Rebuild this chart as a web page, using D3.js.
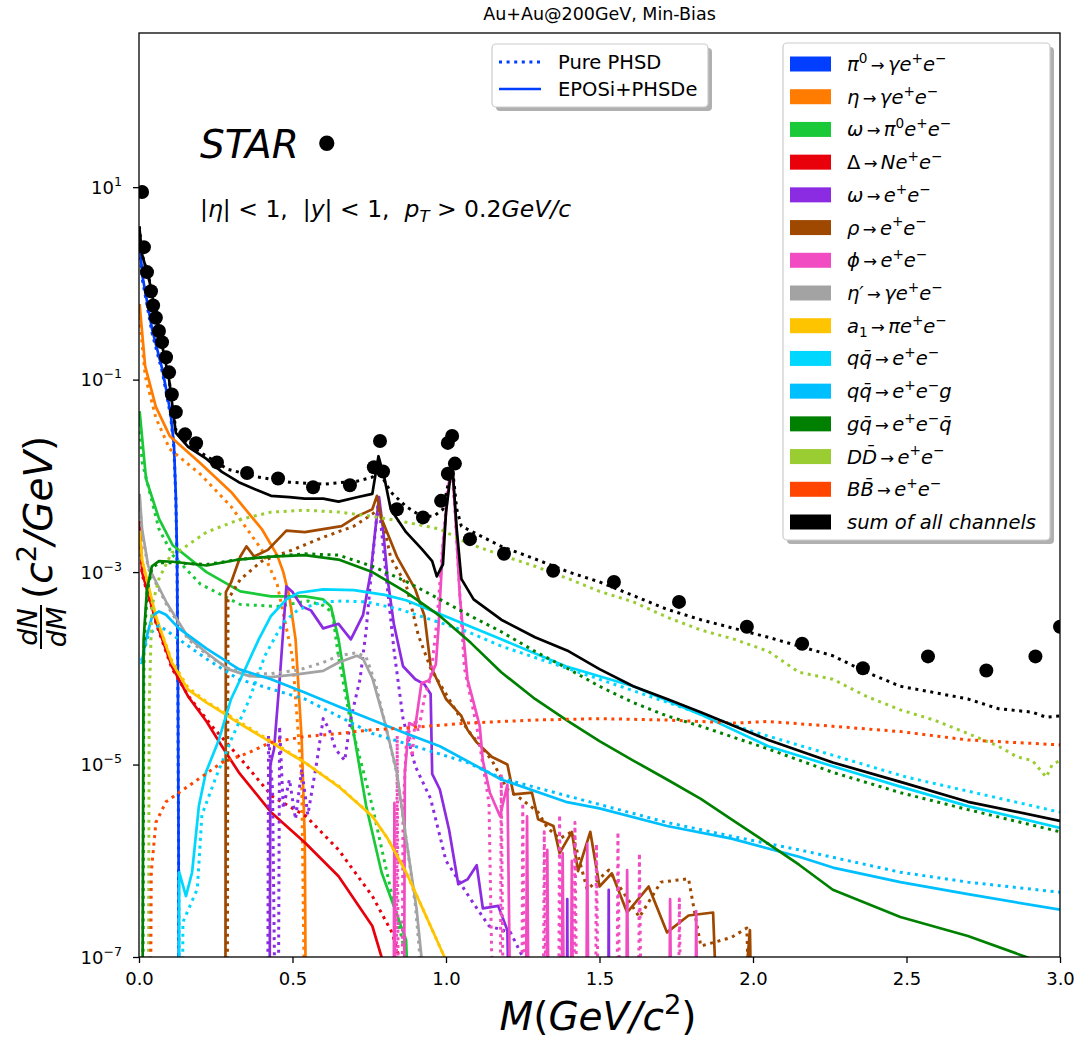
<!DOCTYPE html>
<html><head><meta charset="utf-8">
<script src="https://cdn.jsdelivr.net/npm/d3@7"></script>
<style>body{margin:0;background:#fff} svg{display:block} text{font-family:"DejaVu Sans",sans-serif;white-space:pre}</style>
</head><body><svg id="c" width="1091" height="1041"></svg>
<script>
// ---------------- DATA ----------------
const xTicks = [0, 0.5, 1.0, 1.5, 2.0, 2.5, 3.0];
const yTicks = [1e1, 1e-1, 1e-3, 1e-5, 1e-7];
const channelColors = ["#023eff","#ff7c00","#1ac938","#e8000b","#8b2be2","#9f4800","#f14cc1","#a3a3a3","#ffc400","#00d7ff","#00bfff","#008000","#9acd32","#ff4500","#000000"];

// STAR data points
const starM = [0.010,0.016,0.026,0.039,0.046,0.055,0.065,0.075,0.088,0.098,0.107,0.120,0.150,0.186,0.254,0.352,0.453,0.567,0.687,0.765,0.785,0.795,0.840,0.925,0.984,1.006,1.006,1.020,1.029,1.078,1.189,1.349,1.547,1.759,1.980,2.160,2.358,2.570,2.760,2.920,3.000];
const starY = [8.9,2.38,1.31,0.83,0.59,0.44,0.32,0.245,0.171,0.119,0.070,0.046,0.027,0.0218,0.0138,0.0107,9.4e-3,7.6e-3,8.0e-3,0.0123,0.023,0.0111,4.5e-3,3.7e-3,5.5e-3,0.0105,0.022,0.026,0.0134,2.2e-3,1.55e-3,1.03e-3,7.9e-4,4.9e-4,2.7e-4,1.8e-4,1.0e-4,1.33e-4,9.5e-5,1.33e-4,2.7e-4];

// EPOSi+PHSDe (solid) and Pure PHSD (dotted), [M, dN/dM]
const pi0Epos = [[0.001,3.0],[0.011,1.2],[0.043,0.33],[0.076,0.128],[0.103,0.045],[0.114,0.0205],[0.120,6.1e-3],[0.124,1.36e-3],[0.127,5e-5],[0.129,1e-6],[0.131,1e-9]];
const pi0Phsd = [[0.001,2.7],[0.011,1.1],[0.043,0.30],[0.076,0.12],[0.103,0.042],[0.114,0.019],[0.120,5.7e-3],[0.124,1.3e-3],[0.127,4.5e-5],[0.129,1e-6],[0.131,1e-9]];

const etaEpos = [[0.002,0.61],[0.02,0.138],[0.055,0.052],[0.10,0.026],[0.20,0.0135],[0.30,6.8e-3],[0.40,2.8e-3],[0.45,1.5e-3],[0.47,1.0e-3],[0.49,5.5e-4],[0.51,2.0e-4],[0.53,1.8e-5],[0.54,1.7e-6],[0.546,1e-9]];
const etaPhsd = [[0.002,0.45],[0.02,0.11],[0.055,0.040],[0.10,0.019],[0.20,0.0104],[0.30,4.8e-3],[0.40,1.7e-3],[0.45,7.5e-4],[0.50,1.3e-4],[0.53,7e-6],[0.545,1e-9]];

const omegaDalitzEpos = [[0.002,0.047],[0.023,9.3e-3],[0.065,3.6e-3],[0.11,1.9e-3],[0.22,1.0e-3],[0.33,6.3e-4],[0.43,5.6e-4],[0.54,5.6e-4],[0.60,5.2e-4],[0.625,4.4e-4],[0.65,2.0e-4],[0.684,4.1e-5],[0.74,3.7e-6],[0.79,7.6e-7],[0.87,1.5e-7],[0.895,1e-9]];
const omegaDalitzPhsd = [[0.002,0.035],[0.01,0.014],[0.065,2.8e-3],[0.11,1.5e-3],[0.20,7.5e-4],[0.33,4.6e-4],[0.45,4.4e-4],[0.55,5.0e-4],[0.60,4.5e-4],[0.63,3.8e-4],[0.65,1.3e-4],[0.69,2.7e-5],[0.76,3.7e-6],[0.82,5e-7],[0.87,1.0e-7],[0.875,1e-9]];

const deltaEpos = [[0.002,3.4e-3],[0.01,1.0e-3],[0.056,3.0e-4],[0.107,1.05e-4],[0.16,5.1e-5],[0.22,2.8e-5],[0.27,1.55e-5],[0.325,8.3e-6],[0.43,3.2e-6],[0.54,1.55e-6],[0.65,6.9e-7],[0.76,2.1e-7],[0.79,1e-7],[0.80,1e-9]];
const deltaPhsd = [[0.002,3.2e-3],[0.01,9.5e-4],[0.056,2.9e-4],[0.107,1.0e-4],[0.16,5.2e-5],[0.238,2.5e-5],[0.326,1.2e-5],[0.433,4.7e-6],[0.544,2.9e-6],[0.65,1.3e-6],[0.76,4.3e-7],[0.824,1.8e-7],[0.847,1e-7],[0.855,1e-9]];

const omegaEpos = [[0.424,1e-9],[0.428,1e-5],[0.44,1.45e-5],[0.46,9.1e-5],[0.48,7.1e-4],[0.50,6.2e-4],[0.53,4.4e-4],[0.56,4.0e-4],[0.60,2.6e-4],[0.65,2.9e-4],[0.69,2.0e-4],[0.73,3.6e-4],[0.755,1.0e-3],[0.77,2.8e-3],[0.782,6.0e-3],[0.795,2.8e-3],[0.81,8.4e-4],[0.83,2.9e-4],[0.86,1.05e-4],[0.90,7.7e-5],[0.93,6.8e-5],[0.95,5.4e-5],[0.955,8e-6],[0.98,5.5e-6],[1.01,2.1e-6],[1.04,5.7e-7],[1.07,6.4e-7],[1.10,9e-7],[1.12,3.2e-7],[1.17,3.4e-7],[1.20,1.9e-7],[1.212,1e-9],[1.393,1e-9],[1.395,4e-7],[1.398,1e-9],[1.528,1e-9],[1.53,5e-7],[1.533,1e-9]];
const omegaPhsd = [[0.418,1e-9],[0.422,2e-5],[0.435,5.5e-6],[0.448,1e-9],[0.452,1e-9],[0.458,2.5e-5],[0.47,3.5e-6],[0.49,7e-6],[0.51,2.7e-6],[0.53,8.9e-6],[0.55,3e-6],[0.58,1.1e-5],[0.60,3e-5],[0.62,2.3e-5],[0.64,1.45e-5],[0.67,1.1e-5],[0.69,3e-5],[0.72,7.7e-5],[0.74,2.5e-4],[0.76,1.3e-3],[0.78,5.7e-3],[0.80,1.3e-3],[0.83,1.6e-4],[0.86,3e-5],[0.90,9.6e-6],[0.95,4.4e-6],[1.00,1.0e-6],[1.08,4e-7],[1.14,2.1e-7],[1.21,1.8e-7],[1.25,1e-7],[1.255,1e-9]];

const rhoEpos = [[0.281,1e-9],[0.283,6.2e-4],[0.30,7.8e-4],[0.33,1.45e-3],[0.35,1.85e-3],[0.375,1.45e-3],[0.42,1.7e-3],[0.48,2.7e-3],[0.54,2.6e-3],[0.60,2.8e-3],[0.66,3.0e-3],[0.71,3.8e-3],[0.74,4.2e-3],[0.76,4.5e-3],[0.775,6.2e-3],[0.79,3.6e-3],[0.84,1.45e-3],[0.90,6.6e-4],[0.93,3.5e-4],[0.95,1.05e-4],[1.00,4.8e-5],[1.05,3.2e-5],[1.07,2.3e-5],[1.10,1.7e-5],[1.15,1.2e-5],[1.20,1.0e-5],[1.22,4.9e-6],[1.28,5.1e-6],[1.30,2.7e-6],[1.35,2.3e-6],[1.37,1.2e-6],[1.41,2.0e-6],[1.43,7.8e-7],[1.47,2.0e-6],[1.50,5.4e-7],[1.54,7.4e-7],[1.59,2.9e-7],[1.66,5.4e-7],[1.72,1.8e-7],[1.79,2.7e-7],[1.87,2.9e-7],[1.90,1e-9],[1.93,1e-9],[1.99,1.9e-7],[2.003,1e-9]];
const rhoPhsd = [[0.287,1e-9],[0.29,5.2e-4],[0.33,8.4e-4],[0.40,1.3e-3],[0.50,1.7e-3],[0.60,2.3e-3],[0.70,3.0e-3],[0.76,4.0e-3],[0.78,4.5e-3],[0.80,2.8e-3],[0.82,1.4e-3],[0.87,7.4e-4],[0.91,2.2e-4],[0.95,1.0e-4],[1.00,5.4e-5],[1.07,2.3e-5],[1.15,1.1e-5],[1.20,5.5e-6],[1.24,4.5e-6],[1.30,3.2e-6],[1.33,2.2e-6],[1.37,1.7e-6],[1.41,2.0e-6],[1.46,5e-7],[1.53,8e-7],[1.63,2.6e-7],[1.70,6e-7],[1.79,6.5e-7],[1.83,1.3e-7],[1.93,1.6e-7],[1.98,2.0e-7],[2.0,1e-9]];

const phiEpos = [[0.828,1e-9],[0.832,4e-6],[0.836,1e-9],[0.862,1e-9],[0.866,8.3e-6],[0.88,2.7e-5],[0.90,2.5e-5],[0.92,7e-5],[0.945,7.5e-5],[0.967,1.1e-4],[0.975,2.5e-4],[0.99,1.9e-3],[1.005,6e-3],[1.013,1.1e-2],[1.02,1.3e-2],[1.03,4.2e-3],[1.045,5.6e-4],[1.07,7.7e-5],[1.09,4.4e-5],[1.11,2.5e-5],[1.12,1.1e-5],[1.143,5.1e-6],[1.176,2.9e-6],[1.20,6.2e-6],[1.215,1e-9],[1.258,1e-9],[1.264,2.9e-6],[1.272,1e-9],[1.325,1e-9],[1.33,1.3e-6],[1.337,1e-9],[1.374,1e-9],[1.38,1.2e-6],[1.387,1e-9],[1.404,1e-9],[1.41,1e-6],[1.417,1e-9],[1.455,1e-9],[1.46,1.5e-6],[1.467,1e-9],[1.585,1e-9],[1.59,8e-7],[1.597,1e-9],[1.725,1e-9],[1.73,4e-7],[1.737,1e-9],[1.81,1e-9],[1.815,3e-7],[1.822,1e-9]];
const phiPhsd = [[0.837,1e-9],[0.841,2e-5],[0.846,1e-9],[0.855,1e-9],[0.86,3e-6],[0.87,1.5e-5],[0.88,2.2e-5],[0.89,1.2e-5],[0.90,3e-5],[0.91,2.2e-5],[0.93,5e-5],[0.95,8e-5],[0.97,3e-4],[0.99,2e-3],[1.005,7e-3],[1.019,1.2e-2],[1.03,4e-3],[1.045,6e-4],[1.06,1e-4],[1.08,5e-5],[1.10,2.5e-5],[1.12,1e-5],[1.14,4e-6],[1.16,1e-9],[1.175,1e-9],[1.18,8e-6],[1.19,1e-9],[1.245,1e-9],[1.25,4e-6],[1.26,1e-9],[1.315,1e-9],[1.32,2e-6],[1.33,1e-9],[1.365,1e-9],[1.37,3e-6],[1.38,1e-9],[1.415,1e-9],[1.42,2.5e-6],[1.43,1e-9],[1.485,1e-9],[1.49,1.5e-6],[1.50,1e-9],[1.555,1e-9],[1.56,2e-6],[1.57,1e-9],[1.625,1e-9],[1.63,1.2e-6],[1.64,1e-9],[1.755,1e-9],[1.76,4e-7],[1.77,1e-9]];

const etaPrimeEpos = [[0.002,6.5e-3],[0.01,2.8e-3],[0.03,1.15e-3],[0.09,4.8e-4],[0.16,2.1e-4],[0.22,1.45e-4],[0.29,9.8e-5],[0.36,8.3e-5],[0.43,8.1e-5],[0.52,8.7e-5],[0.60,9.4e-5],[0.65,1.15e-4],[0.71,1.35e-4],[0.73,1.25e-4],[0.76,7.9e-5],[0.80,2.8e-5],[0.84,8.3e-6],[0.87,1.7e-6],[0.904,3.2e-7],[0.92,1e-7],[0.925,1e-9]];
const etaPrimePhsd = [[0.002,5.5e-3],[0.01,2.6e-3],[0.03,1.1e-3],[0.09,4.6e-4],[0.16,2.0e-4],[0.22,1.4e-4],[0.29,1.0e-4],[0.36,8.8e-5],[0.43,8.8e-5],[0.52,9.6e-5],[0.60,1.15e-4],[0.65,1.35e-4],[0.71,1.45e-4],[0.74,1.3e-4],[0.77,7e-5],[0.80,2.8e-5],[0.84,8e-6],[0.87,1.7e-6],[0.90,3.5e-7],[0.915,1e-7],[0.92,1e-9]];

const a1Epos = [[0.002,2.7e-3],[0.01,1.35e-3],[0.056,3.4e-4],[0.107,1.15e-4],[0.16,6e-5],[0.22,4.4e-5],[0.27,3.5e-5],[0.325,2.7e-5],[0.43,1.7e-5],[0.54,1.05e-5],[0.65,5.9e-6],[0.76,2.9e-6],[0.81,1.7e-6],[0.87,7.6e-7],[0.92,3.4e-7],[0.97,1.5e-7],[0.995,1e-7],[1.0,1e-9]];
const a1Phsd = [[0.002,2.5e-3],[0.01,1.3e-3],[0.056,3.3e-4],[0.107,1.2e-4],[0.16,6.3e-5],[0.22,4.5e-5],[0.27,3.6e-5],[0.325,2.8e-5],[0.43,1.75e-5],[0.54,1.05e-5],[0.65,6e-6],[0.76,2.9e-6],[0.81,1.7e-6],[0.87,7.6e-7],[0.92,3.4e-7],[0.97,1.5e-7],[0.995,1e-7],[1.0,1e-9]];

const qqEpos = [[0.129,1e-9],[0.131,7.6e-7],[0.153,4.3e-7],[0.173,7.6e-7],[0.195,3.7e-6],[0.218,8.3e-6],[0.26,1.8e-5],[0.30,4.8e-5],[0.35,1.05e-4],[0.39,2.0e-4],[0.43,3.5e-4],[0.48,5.2e-4],[0.52,6.1e-4],[0.60,6.6e-4],[0.70,6.5e-4],[0.80,5.8e-4],[0.87,5.1e-4],[0.96,3.9e-4],[1.18,2.0e-4],[1.39,1.05e-4],[1.61,6.5e-5],[1.83,3.3e-5],[2.05,1.55e-5],[2.26,9.6e-6],[2.48,5.9e-6],[2.70,3.7e-6],[3.0,2.2e-6]];
const qqPhsd = [[0.14,1e-9],[0.143,2.3e-7],[0.19,5.1e-7],[0.205,3e-6],[0.25,7.3e-6],[0.30,1.8e-5],[0.36,4.8e-5],[0.41,1.35e-4],[0.47,3.0e-4],[0.52,4.1e-4],[0.60,4.9e-4],[0.66,5.0e-4],[0.74,4.9e-4],[0.85,4.1e-4],[1.07,2.4e-4],[1.18,1.7e-4],[1.50,7.7e-5],[2.0,2.2e-5],[2.5,7.4e-6],[3.0,3.2e-6]];

const qqgEpos = [[0.008,1.1e-4],[0.023,2.0e-4],[0.043,3.5e-4],[0.065,3.9e-4],[0.088,3.6e-4],[0.13,2.6e-4],[0.22,1.6e-4],[0.325,9.8e-5],[0.43,7.7e-5],[0.54,5.6e-5],[0.65,4.0e-5],[0.76,2.9e-5],[0.87,2.1e-5],[0.98,1.55e-5],[1.18,7.0e-6],[1.39,4.1e-6],[1.50,3.5e-6],[1.72,2.3e-6],[1.93,1.7e-6],[2.15,1.1e-6],[2.26,8.5e-7],[2.48,6.0e-7],[2.70,4.5e-7],[3.0,3.1e-7]];
const qqgPhsd = [[0.008,1.2e-4],[0.03,2.2e-4],[0.065,2.8e-4],[0.13,2.0e-4],[0.22,1.25e-4],[0.325,7.7e-5],[0.43,6.1e-5],[0.54,4.8e-5],[0.76,2.1e-5],[0.87,1.65e-5],[1.07,1.05e-5],[1.18,7.2e-6],[1.72,2.5e-6],[1.93,1.8e-6],[2.15,1.3e-6],[2.48,7.6e-7],[2.70,6.0e-7],[3.0,4.7e-7]];

const gqEpos = [[0.01,1e-9],[0.015,2.0e-4],[0.026,6.6e-4],[0.042,1.15e-3],[0.065,1.3e-3],[0.11,1.28e-3],[0.22,1.17e-3],[0.325,1.35e-3],[0.43,1.45e-3],[0.54,1.5e-3],[0.65,1.35e-3],[0.76,1.0e-3],[0.87,6.2e-4],[0.98,3.5e-4],[1.08,1.85e-4],[1.18,9.1e-5],[1.29,4.8e-5],[1.40,2.8e-5],[1.50,1.75e-5],[1.61,1.1e-5],[1.72,7.0e-6],[1.83,4.4e-6],[1.93,2.7e-6],[2.05,1.5e-6],[2.15,9.1e-7],[2.26,5.0e-7],[2.48,2.6e-7],[2.70,1.65e-7],[2.89,1.0e-7],[3.0,7e-8]];
const gqPhsd = [[0.011,1e-9],[0.016,1.6e-4],[0.026,6.0e-4],[0.042,1.1e-3],[0.065,1.25e-3],[0.11,1.25e-3],[0.22,1.2e-3],[0.325,1.35e-3],[0.43,1.45e-3],[0.54,1.55e-3],[0.65,1.5e-3],[0.76,1.15e-3],[0.87,8.0e-4],[0.98,5.2e-4],[1.08,3.5e-4],[1.18,2.4e-4],[1.29,1.5e-4],[1.40,9.8e-5],[1.50,6.5e-5],[1.61,4.4e-5],[1.72,3.2e-5],[1.83,2.5e-5],[2.05,1.45e-5],[2.26,8.3e-6],[2.48,5.1e-6],[2.70,3.4e-6],[3.0,2.0e-6]];

const ddPhsd = [[0.030,1e-9],[0.033,4e-5],[0.042,4.4e-4],[0.065,8.5e-4],[0.107,1.6e-3],[0.13,1.65e-3],[0.22,2.6e-3],[0.325,3.5e-3],[0.43,4.2e-3],[0.54,4.4e-3],[0.65,4.2e-3],[0.76,3.8e-3],[0.87,3.3e-3],[0.98,2.8e-3],[1.07,2.0e-3],[1.18,1.5e-3],[1.29,1.15e-3],[1.40,8.5e-4],[1.50,6.3e-4],[1.61,4.9e-4],[1.72,3.4e-4],[1.83,2.5e-4],[1.94,2.0e-4],[2.05,1.5e-4],[2.15,9.1e-5],[2.26,7.7e-5],[2.37,5.1e-5],[2.48,3.7e-5],[2.59,2.9e-5],[2.70,2.1e-5],[2.80,1.55e-5],[2.86,1.2e-5],[2.91,1.1e-5],[2.955,7.4e-6],[2.975,1.0e-5],[3.0,1.1e-5]];

const bbPhsd = [[0.035,1e-9],[0.04,7.6e-7],[0.055,2.5e-6],[0.088,4.1e-6],[0.13,5.1e-6],[0.195,7.1e-6],[0.27,1.05e-5],[0.35,1.3e-5],[0.43,1.7e-5],[0.54,1.95e-5],[0.65,2.1e-5],[0.76,2.3e-5],[0.87,2.4e-5],[1.07,2.7e-5],[1.29,2.9e-5],[1.50,3.0e-5],[1.72,2.9e-5],[1.94,2.7e-5],[2.05,2.8e-5],[2.26,2.5e-5],[2.48,2.2e-5],[2.70,1.8e-5],[3.0,1.6e-5]];

const sumEpos = [[0.001,3.9],[0.01,2.0],[0.033,1.1],[0.065,0.33],[0.098,0.10],[0.12,0.028],[0.16,0.020],[0.22,0.015],[0.27,0.011],[0.325,8.6e-3],[0.38,7.2e-3],[0.43,6.2e-3],[0.49,6.0e-3],[0.54,5.8e-3],[0.60,5.8e-3],[0.65,5.4e-3],[0.71,6.0e-3],[0.76,6.5e-3],[0.78,0.016],[0.80,9.3e-3],[0.82,4.5e-3],[0.87,2.6e-3],[0.92,1.75e-3],[0.955,1.3e-3],[0.97,9e-4],[0.99,1.2e-3],[1.0,4.2e-3],[1.02,0.0137],[1.035,2.8e-3],[1.05,8.5e-4],[1.09,5.2e-4],[1.18,3.2e-4],[1.29,2.1e-4],[1.40,1.5e-4],[1.50,9.8e-5],[1.61,6.5e-5],[1.72,4.8e-5],[1.83,3.5e-5],[2.05,1.8e-5],[2.26,1.05e-5],[2.48,6.6e-6],[2.70,4.1e-6],[3.0,2.6e-6]];
const sumPhsd = [[0.001,3.9],[0.01,2.0],[0.033,1.1],[0.065,0.33],[0.098,0.10],[0.12,0.03],[0.16,0.021],[0.22,0.016],[0.29,0.0117],[0.38,9.8e-3],[0.49,8.6e-3],[0.60,8.2e-3],[0.71,8.8e-3],[0.76,9.7e-3],[0.78,0.0117],[0.80,8.8e-3],[0.82,6.8e-3],[0.87,4.8e-3],[0.92,3.8e-3],[0.96,3.8e-3],[0.99,4.5e-3],[1.02,0.013],[1.035,4.5e-3],[1.05,3.0e-3],[1.18,1.85e-3],[1.29,1.37e-3],[1.40,1.0e-3],[1.50,7.9e-4],[1.61,5.7e-4],[1.72,4.1e-4],[1.83,3.2e-4],[2.05,2.1e-4],[2.26,1.35e-4],[2.37,9.1e-5],[2.48,6.5e-5],[2.59,5.6e-5],[2.70,4.8e-5],[2.80,3.8e-5],[2.91,3.5e-5],[2.955,3.1e-5],[3.0,3.2e-5]];

// ---------------- CHART ----------------
const svg = d3.select("#c");
const L = 139, R = 1060, T = 33, B = 957;
const x = d3.scaleLinear().domain([0, 3]).range([L, R]);
const y = d3.scaleLog().domain([1e-7, 400]).range([B, T]);

svg.append("defs").append("clipPath").attr("id","clip")
  .append("rect").attr("x",L).attr("y",T).attr("width",R-L).attr("height",B-T);

const plot = svg.append("g").attr("clip-path","url(#clip)");
const line = d3.line().x(d=>x(d[0])).y(d=>y(Math.max(d[1],1e-9)));

const DOT = "3,4.6";
const SW = 2.7, DW = 3;
const series = [
  [pi0Phsd,0,true],[pi0Epos,0,false],
  [etaPhsd,1,true],[etaEpos,1,false],
  [omegaDalitzPhsd,2,true],[omegaDalitzEpos,2,false],
  [deltaPhsd,3,true],[deltaEpos,3,false],
  [omegaPhsd,4,true],[omegaEpos,4,false],
  [rhoPhsd,5,true],[rhoEpos,5,false],
  [phiPhsd,6,true],[phiEpos,6,false],
  [etaPrimePhsd,7,true],[etaPrimeEpos,7,false],
  [a1Phsd,8,true],[a1Epos,8,false],
  [qqPhsd,9,true],[qqEpos,9,false],
  [qqgPhsd,10,true],[qqgEpos,10,false],
  [gqPhsd,11,true],[gqEpos,11,false],
  [ddPhsd,12,true],
  [bbPhsd,13,true],
  [sumPhsd,14,true],[sumEpos,14,false]
];
series.forEach(([data,ci,dotted])=>{
  plot.append("path").datum(data).attr("d",line)
    .attr("fill","none").attr("stroke",channelColors[ci])
    .attr("stroke-width", dotted?DW:SW)
    .attr("stroke-dasharray", dotted?DOT:null)
    .attr("stroke-linejoin","round");
});

plot.selectAll("circle.star").data(starM.map((m,i)=>[m,starY[i]])).join("circle")
  .attr("cx",d=>x(d[0])).attr("cy",d=>y(d[1])).attr("r",7).attr("fill","#000");

// frame
svg.append("rect").attr("x",L).attr("y",T).attr("width",R-L).attr("height",B-T)
  .attr("fill","none").attr("stroke","#000").attr("stroke-width",1.3);

// axes
const xAxis = svg.append("g").attr("transform",`translate(0,${B})`)
  .call(d3.axisBottom(x).tickValues(xTicks).tickFormat(d3.format(".1f")).tickSize(6).tickPadding(9));
xAxis.select(".domain").remove();
xAxis.selectAll("text").attr("font-size",18).attr("font-family","DejaVu Sans").attr("fill","#000");
xAxis.selectAll("line").attr("stroke","#000").attr("stroke-width",1.3);

const yAxis = svg.append("g").attr("transform",`translate(${L},0)`)
  .call(d3.axisLeft(y).tickValues(yTicks).tickSize(6).tickPadding(11).tickFormat(""));
yAxis.select(".domain").remove();
yAxis.selectAll("line").attr("stroke","#000").attr("stroke-width",1.3);
yAxis.selectAll(".tick text").each(function(d){
  const e = Math.round(Math.log10(d));
  const t = d3.select(this).attr("font-size",18).attr("font-family","DejaVu Sans").attr("fill","#000").attr("dy","0.35em");
  t.append("tspan").text("10");
  t.append("tspan").text((e<0?"\u2212":"")+Math.abs(e)).attr("font-size",12.6).attr("dy",-8);
});

// rich text helper
function rich(sel, parts, fs){
  let shift = 0;
  parts.forEach(([t,f])=>{
    const ts = sel.append("tspan").text(t);
    let target = 0, size = fs;
    if (f.includes("^")) { target = -0.42*fs; size = fs*0.7; }
    if (f.includes("_")) { target = 0.22*fs; size = fs*0.7; }
    if (f.includes("a")) { size = fs*0.85; }
    if (f.includes("b")) { target = 0.12*fs; size = fs*1.35; }
    ts.attr("dy", target - shift).attr("font-size", size);
    shift = target;
    if (f.includes("i")) ts.attr("font-style","italic");
  });
}

// title
svg.append("text").attr("x",(L+R)/2).attr("y",20).attr("text-anchor","middle")
  .attr("font-size",17.5).text("Au+Au@200GeV, Min-Bias");

// STAR label
const st = svg.append("text").attr("x",200).attr("y",158).attr("font-size",39);
rich(st, [["STAR ","i"],["\u2022","b"]], 39);

const cond = svg.append("text").attr("x",200).attr("y",217).attr("font-size",23.5);
rich(cond, [["|",""],["\u03b7","i"],["| < 1,  |",""],["y","i"],["| < 1,  ",""],["p","i"],["T","i_"],[" > 0.2",""],["GeV/c","i"]], 23.5);

// axis labels
const xl = svg.append("text").attr("x",598).attr("y",1030).attr("text-anchor","middle").attr("font-size",39);
rich(xl, [["M","i"],["(",""],["GeV/c","i"],["2","^"],[")",""]], 39);

const yl = svg.append("g").attr("transform","translate(52,515) rotate(-90)");
yl.append("text").attr("x",-112).attr("y",-15).attr("text-anchor","middle").attr("font-size",27).attr("font-style","italic").text("dN");
yl.append("text").attr("x",-112).attr("y",14).attr("text-anchor","middle").attr("font-size",27).attr("font-style","italic").text("dM");
yl.append("line").attr("x1",-134).attr("x2",-90).attr("y1",-11).attr("y2",-11).attr("stroke","#000").attr("stroke-width",2);
const ylt = yl.append("text").attr("x",-84).attr("y",0).attr("font-size",39);
rich(ylt, [["(",""],["c","i"],["2","^"],["/GeV","i"],[")",""]], 39);

// legend boxes
function box(x0,y0,w,h){
  svg.append("rect").attr("x",x0+4).attr("y",y0+4).attr("width",w).attr("height",h).attr("rx",4).attr("fill","#b0b0b0");
  svg.append("rect").attr("x",x0).attr("y",y0).attr("width",w).attr("height",h).attr("rx",4).attr("fill","#fff").attr("stroke","#cccccc").attr("stroke-width",1.2);
}
// legend 1 (line styles)
box(492,44,216,63);
const lg1 = [["Pure PHSD",true,62],["EPOSi+PHSDe",false,89]];
lg1.forEach(([lab,dotted,yy])=>{
  svg.append("line").attr("x1",499).attr("x2",541).attr("y1",yy).attr("y2",yy)
    .attr("stroke",channelColors[0]).attr("stroke-width",dotted?DW:SW).attr("stroke-dasharray",dotted?DOT:null);
  svg.append("text").attr("x",558).attr("y",yy+7).attr("font-size",19.5).text(lab);
});

// legend 2 (channels)
const AR = ["\u2009\u2192\u2009","a"];
const ep = [["e","i"],["+","^"],["e","i"],["\u2212","^"]];
const legendLabels = [
  [["\u03c0","i"],["0","^"],AR,["\u03b3","i"],...ep],
  [["\u03b7","i"],AR,["\u03b3","i"],...ep],
  [["\u03c9","i"],AR,["\u03c0","i"],["0","^"],...ep],
  [["\u0394",""],AR,["N","i"],...ep],
  [["\u03c9","i"],AR,...ep],
  [["\u03c1","i"],AR,...ep],
  [["\u03d5","i"],AR,...ep],
  [["\u03b7\u2032","i"],AR,["\u03b3","i"],...ep],
  [["a","i"],["1","_"],AR,["\u03c0","i"],...ep],
  [["qq\u0304","i"],AR,...ep],
  [["qq\u0304","i"],AR,...ep,["g","i"]],
  [["gq\u0304","i"],AR,...ep,["q\u0304","i"]],
  [["DD\u0304","i"],AR,...ep],
  [["BB\u0304","i"],AR,...ep],
  [["sum of all channels","i"]]
];
box(783,43,267,497);
legendLabels.forEach((parts,i)=>{
  const yy = 64 + i*(522-64)/14;
  svg.append("rect").attr("x",790).attr("y",yy-7.5).attr("width",41).attr("height",15).attr("fill",channelColors[i]);
  const t = svg.append("text").attr("x",847).attr("y",yy+7).attr("font-size",19.5);
  rich(t, parts, 19.5);
});
</script></body></html>
